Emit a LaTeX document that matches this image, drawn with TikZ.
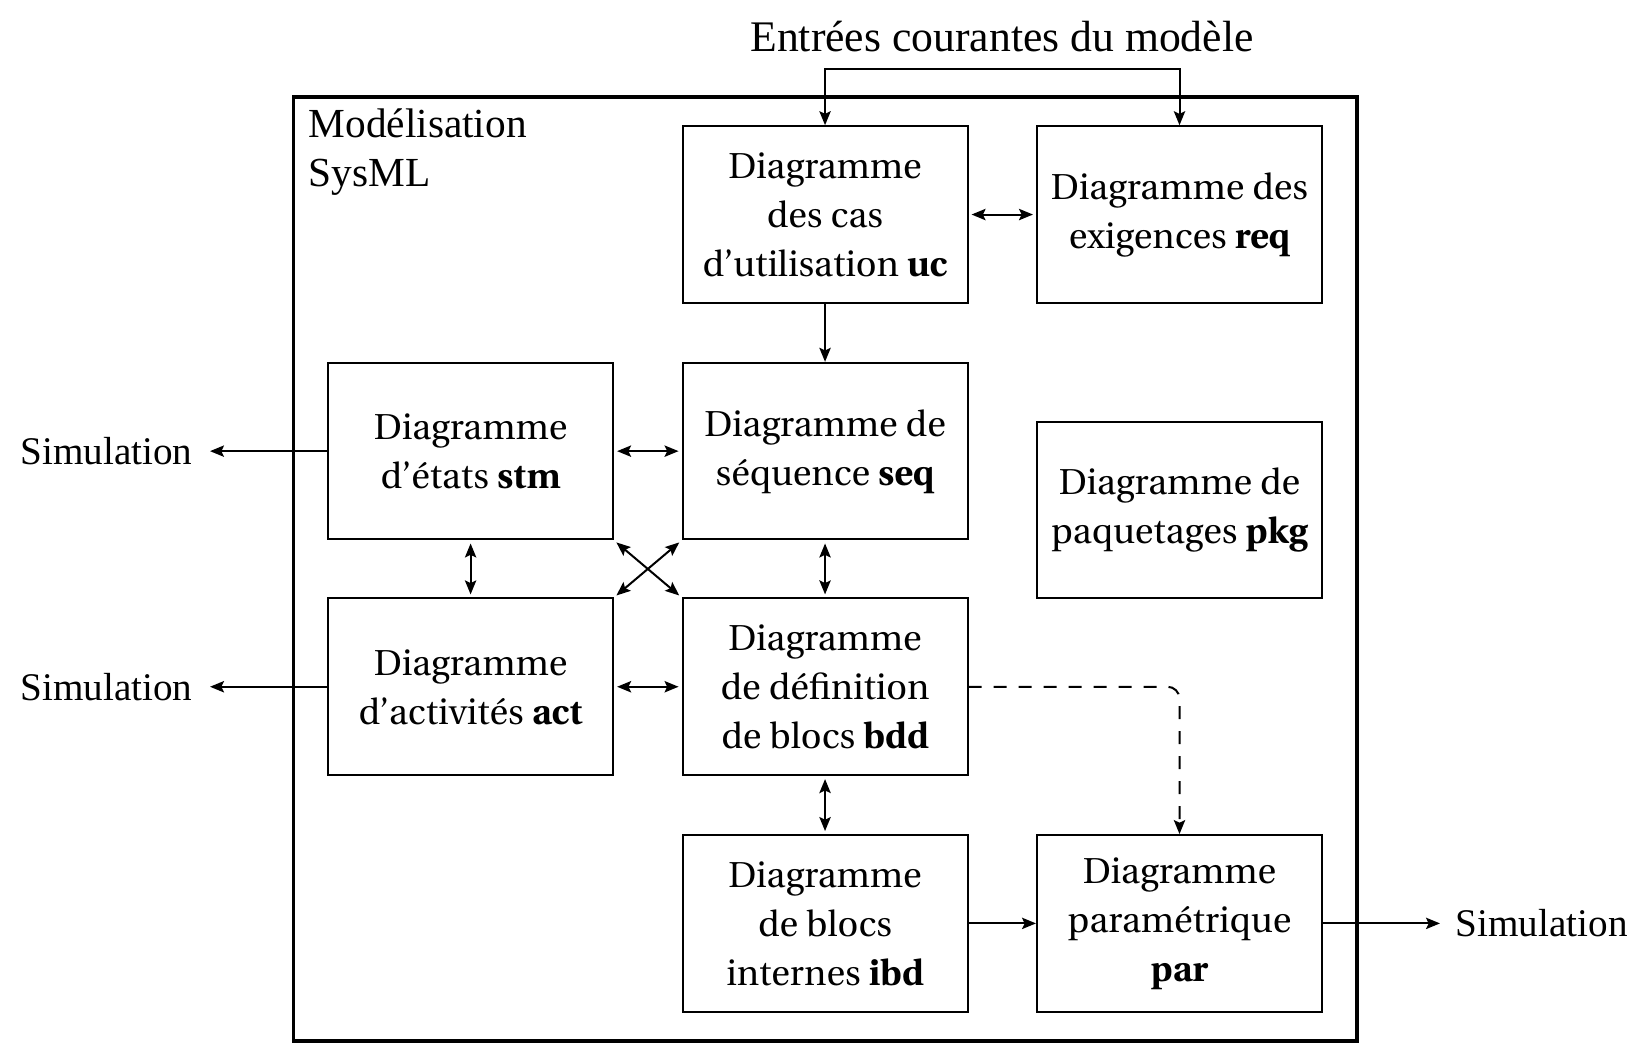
\documentclass[tikz,border=0pt]{standalone}
\usepackage{fontspec}
\newfontfamily\tnrfont{Liberation Serif}
\usepackage[T1]{fontenc}
\usetikzlibrary{arrows.meta}
\newcommand\utofont{\fontencoding{T1}\fontfamily{put}\selectfont}
\begin{document}
\begin{tikzpicture}[x=0.3pt,y=-0.3pt,
  box/.style={draw,line width=0.6pt,minimum width=85.5pt,minimum height=53pt,inner sep=0pt,align=center,
    font=\utofont\fontsize{10.8}{14.7}\selectfont},
  simlabel/.style={font=\tnrfont\fontsize{11.75}{14}\selectfont,inner ysep=2pt},
  tip/.tip={Stealth[length=4.2pt,width=3.4pt,inset=0.8pt]},
  arr/.style={line width=0.6pt,-tip},
  darr/.style={line width=0.6pt,tip-tip,shorten >=0.9pt,shorten <=0.9pt}]
\useasboundingbox (0,0) rectangle (1649,1055);

% frame
\node[draw,line width=1.1pt,minimum width=319pt,minimum height=283.3pt,inner sep=0pt] (frame) at (825.05,569) {};
\node[anchor=base west,inner sep=0pt,font=\tnrfont\fontsize{12.4}{14.7}\selectfont] (modlabel) at (308,138)
  {\begin{tabular}[t]{@{}l@{}}Mod\'elisation\\SysML\end{tabular}};

% title
\node[anchor=base,inner sep=4.8pt,font=\tnrfont\fontsize{13.1}{15}\selectfont] (title) at (1002,52)
  {Entr\'ees courantes du mod\`ele};

% boxes
\node[box] (uc)  at (825.05,214.55) {Diagramme\\des cas\\d'utilisation \textbf{uc}};
\node[box] (req) at (1179.5,214.55) {Diagramme des\\exigences \textbf{req}};
\node[box] (stm) at (470.6,451.15) {Diagramme\\d'\'etats \textbf{stm}};
\node[box] (seq) at (825.05,451.15) {Diagramme de\\s\'equence \textbf{seq}};
\node[box] (pkg) at (1179.5,510.05) {Diagramme de\\paquetages \textbf{pkg}};
\node[box] (act) at (470.6,686.75) {Diagramme\\d'activit\'es \textbf{act}};
\node[box] (bdd) at (825.05,686.75) {Diagramme\\de d\'efinition\\de blocs \textbf{bdd}};
\node[box] (ibd) at (825.05,923.4) {Diagramme\\de blocs\\internes \textbf{ibd}};
\node[box] (par) at (1179.5,923.4) {Diagramme\\param\'etrique\\\textbf{par}};

% simulation labels
\node[simlabel,anchor=east,inner xsep=5.1pt] (simA) at (210,451.15) {Simulation};
\node[simlabel,anchor=east,inner xsep=5.1pt] (simB) at (210,686.75) {Simulation};
\node[simlabel,anchor=west,inner xsep=4.5pt] (simC) at (1440,923.4) {Simulation};

% connectors
\draw[arr] (title.south) -| (uc.north);
\draw[arr] (title.south) -| (req.north);
\draw[arr] (uc) -- (seq);
\draw[darr] (uc) -- (req);
\draw[darr] (stm) -- (seq);
\draw[darr] (act) -- (bdd);
\draw[darr] (stm) -- (act);
\draw[darr] (seq) -- (bdd);
\draw[darr] (bdd) -- (ibd);
\draw[darr] (stm.south east) -- (bdd.north west);
\draw[darr] (seq.south west) -- (act.north east);
\draw[arr] (ibd) -- (par);
\draw[arr] (stm.west) -- (simA);
\draw[arr] (act.west) -- (simB);
\draw[arr] (par.east) -- (simC);
\draw[arr,dash pattern=on 3.9pt off 3.6pt,rounded corners=3.6pt] (bdd.east) -| (par.north);
\end{tikzpicture}
\end{document}
